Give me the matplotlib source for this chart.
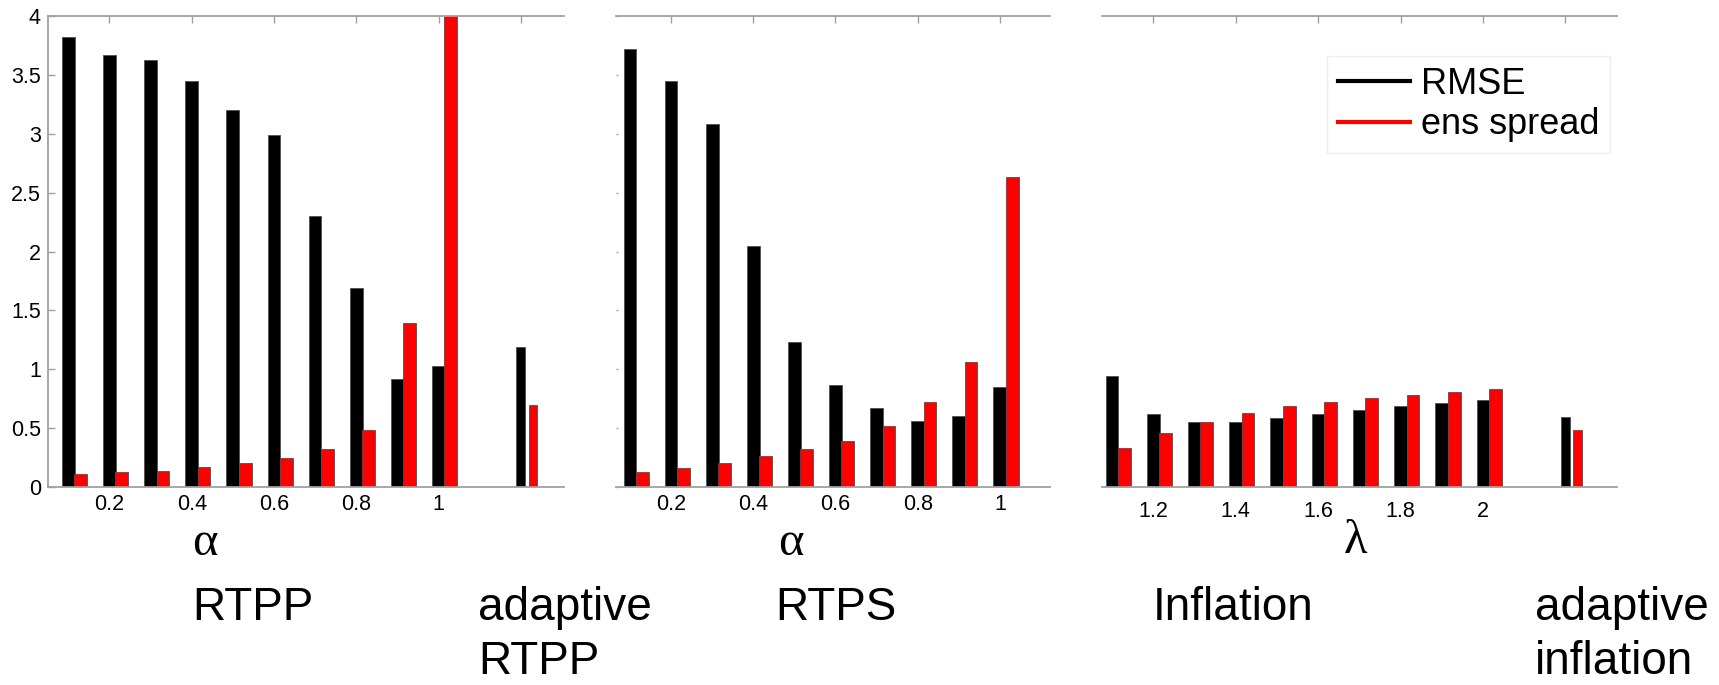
import numpy as np
import matplotlib
matplotlib.use("Agg")
import matplotlib.pyplot as plt
from matplotlib.lines import Line2D

# RTPP (relaxation to prior perturbations)
rtpp_alpha = [0.1, 0.2, 0.3, 0.4, 0.5, 0.6, 0.7, 0.8, 0.9, 1.0]
rtpp_rmse = [3.82, 3.67, 3.63, 3.45, 3.20, 2.99, 2.30, 1.69, 0.92, 1.03]
rtpp_spread = [0.11, 0.13, 0.14, 0.17, 0.20, 0.25, 0.32, 0.48, 1.39, 4.0]
adaptive_rtpp_x = [1.2]
adaptive_rtpp_rmse = [1.19]
adaptive_rtpp_spread = [0.70]

# RTPS (relaxation to prior spread)
rtps_alpha = [0.1, 0.2, 0.3, 0.4, 0.5, 0.6, 0.7, 0.8, 0.9, 1.0]
rtps_rmse = [3.72, 3.45, 3.08, 2.05, 1.23, 0.87, 0.67, 0.56, 0.60, 0.85]
rtps_spread = [0.125, 0.16, 0.20, 0.26, 0.32, 0.39, 0.52, 0.72, 1.06, 2.63]

# multiplicative inflation
infl_lambda = [1.1, 1.2, 1.3, 1.4, 1.5, 1.6, 1.7, 1.8, 1.9, 2.0]
infl_rmse = [0.94, 0.62, 0.55, 0.555, 0.59, 0.62, 0.655, 0.69, 0.715, 0.74]
infl_spread = [0.33, 0.46, 0.555, 0.63, 0.69, 0.72, 0.755, 0.785, 0.81, 0.83]
adaptive_infl_x = [2.2]
adaptive_infl_rmse = [0.595]
adaptive_infl_spread = [0.48]

alpha_ticks = [0.2, 0.4, 0.6, 0.8, 1.0, 1.2]
alpha_ticklabels = ["0.2", "0.4", "0.6", "0.8", "1", ""]
rtps_ticks = [0.2, 0.4, 0.6, 0.8, 1.0]
rtps_ticklabels = ["0.2", "0.4", "0.6", "0.8", "1"]
lambda_ticks = [1.2, 1.4, 1.6, 1.8, 2.0, 2.2]
lambda_ticklabels = ["1.2", "1.4", "1.6", "1.8", "2", ""]
y_ticks = [0, 0.5, 1, 1.5, 2, 2.5, 3, 3.5, 4]
y_ticklabels = ["0", "0.5", "1", "1.5", "2", "2.5", "3", "3.5", "4"]

GRAY = "#a0a0a0"
EDGE = "#505050"
W = 1719
H = 685


def bars(ax, x, rmse, spread, width):
    x = np.asarray(x)
    ax.bar(x, rmse, width=width, color="black", edgecolor=EDGE, linewidth=0.6)
    ax.bar(x + 0.03, spread, width=width, color="#ff0000", edgecolor=EDGE, linewidth=0.6)


def style(ax, xlim, ticks, labels, xpad):
    ax.set_xlim(*xlim)
    ax.set_ylim(0, 4)
    ax.spines["right"].set_visible(False)
    for s in ["top", "bottom", "left"]:
        ax.spines[s].set_color(GRAY)
        ax.spines[s].set_linewidth(1.3)
    ax.set_xticks(ticks)
    ax.set_xticklabels(labels, fontsize=15.5)
    ax.tick_params(axis="x", direction="in", top=True, bottom=False,
                   labelbottom=True, length=5, width=1, color=GRAY, pad=xpad)


def main():
    plt.rcParams["font.family"] = ["Liberation Sans", "DejaVu Sans"]
    fig = plt.figure(figsize=(W / 100, H / 100), dpi=100)

    y0 = 1 - 487 / H
    h = 471 / H
    ax1 = fig.add_axes([47.7 / W, y0, (564 - 47.7) / W, h])
    ax2 = fig.add_axes([616 / W, y0, 434 / W, h])
    ax3 = fig.add_axes([1102 / W, y0, 515 / W, h])

    bars(ax1, rtpp_alpha, rtpp_rmse, rtpp_spread, 0.031)
    bars(ax1, adaptive_rtpp_x, adaptive_rtpp_rmse, adaptive_rtpp_spread, 0.021)
    bars(ax2, rtps_alpha, rtps_rmse, rtps_spread, 0.031)
    bars(ax3, infl_lambda, infl_rmse, infl_spread, 0.031)
    bars(ax3, adaptive_infl_x, adaptive_infl_rmse, adaptive_infl_spread, 0.021)

    style(ax1, (0.05, 1.305), alpha_ticks, alpha_ticklabels, 5)
    style(ax2, (0.066, 1.122), rtps_ticks, rtps_ticklabels, 5)
    style(ax3, (1.076, 2.325), lambda_ticks, lambda_ticklabels, 10)

    ax1.set_yticks(y_ticks)
    ax1.set_yticklabels(y_ticklabels, fontsize=15.5)
    ax1.tick_params(axis="y", direction="in", length=5, width=1, color=GRAY, pad=5)

    ax2.spines["left"].set_visible(False)
    ax2.set_yticks(y_ticks)
    ax2.tick_params(axis="y", direction="in", length=1.5, width=1, color=GRAY, labelleft=False)

    ax3.spines["left"].set_visible(False)
    ax3.set_yticks([])

    handles = [Line2D([], [], color="black", lw=3), Line2D([], [], color="#ff0000", lw=3)]
    leg = fig.legend(handles, ["RMSE", "ens spread"], loc="upper right",
                     bbox_to_anchor=(1610 / W, 1 - 56 / H), borderaxespad=0,
                     fontsize=26, handlelength=2.0, handletextpad=0.3,
                     labelspacing=0.15, borderpad=0.3, fancybox=False, framealpha=1)
    leg.get_frame().set_edgecolor("#eeeeee")
    leg.get_frame().set_linewidth(1)

    greek = dict(fontsize=35, family=["Liberation Serif", "DejaVu Serif"],
                 ha="center", va="baseline")
    fig.text(205 / W, 1 - 555 / H, "\u03b1", **greek)
    fig.text(791 / W, 1 - 555 / H, "\u03b1", **greek)
    fig.text(1355 / W, 1 - 553 / H, "\u03bb", **greek)

    # va="baseline" on multi-line text sits on the last line
    big = dict(fontsize=33, ha="left", va="baseline", linespacing=1.28)
    base = 1 - 620 / H
    base2 = 1 - 674 / H
    fig.text(192 / W, base, "RTPP", **big)
    fig.text(478 / W, base2, "adaptive\nRTPP", **big)
    fig.text(775 / W, base, "RTPS", **big)
    fig.text(1153 / W, base, "Inflation", **big)
    fig.text(1535 / W, base2, "adaptive\ninflation", **big)

    fig.savefig("out.png", dpi=100)


if __name__ == "__main__":
    main()
